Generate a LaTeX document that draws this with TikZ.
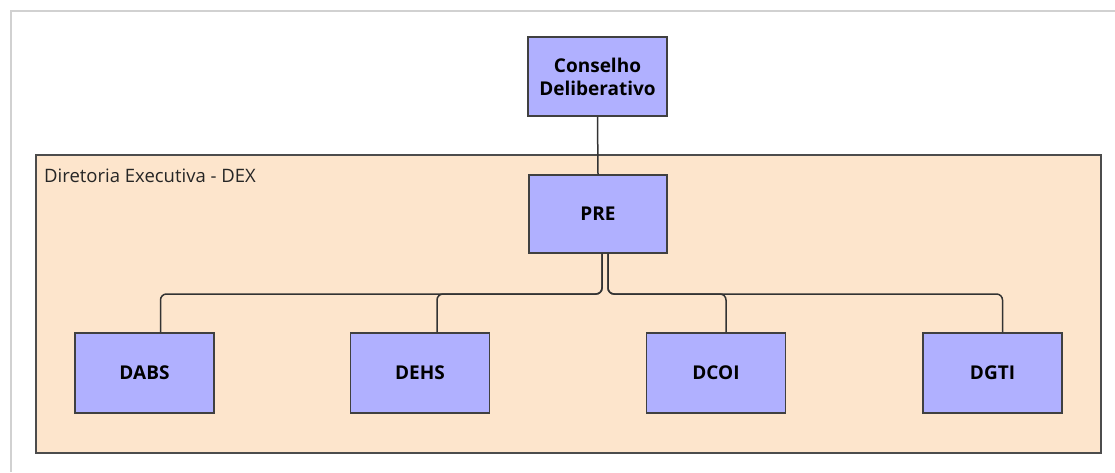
\documentclass[tikz,border=0pt]{standalone}
\usepackage{fontspec}
\setmainfont{Open Sans}
\begin{document}
\begin{tikzpicture}[x=1pt,y=-1pt,
  unit/.style={draw=black!75, line width=1.4pt, fill=boxfill, minimum width=139pt,
    minimum height=79pt, inner sep=2pt, align=center, font=\bfseries\fontsize{19}{23}\selectfont},
  link/.style={draw=black!80, line width=1.5pt, rounded corners=6pt}]
\definecolor{boxfill}{RGB}{176,176,255}
\definecolor{dexfill}{RGB}{253,229,204}
\useasboundingbox (0,0) rectangle (1115,472);
% page frame
\fill[white] (11,11) rectangle (1115,472);
\draw[black!18, line width=2pt] (11,472) -- (11,11) -- (1115,11);
% executive board container
\node[draw=black!70, line width=1.4pt, fill=dexfill, minimum width=1065pt, minimum height=298pt,
  inner sep=0pt] (dex) at (568.5,304) {};
\node[anchor=west, inner sep=0pt, font=\fontsize{18.5}{20}\selectfont, text=black!85] (dexlabel)
  at (44,176) {Diretoria Executiva - DEX};
% units
\node[unit] (cd) at (597.5,76.5) {Conselho\\Deliberativo};
\node[unit, minimum width=138pt, minimum height=78pt] (pre) at (598,214) {PRE};
\node[unit, minimum height=80pt] (dabs) at (144.5,373) {DABS};
\node[unit, minimum height=80pt] (dehs) at (420,373) {DEHS};
\node[unit, minimum height=80pt] (dcoi) at (716,373) {DCOI};
\node[unit, minimum height=80pt] (dgti) at (992.5,373) {DGTI};
% connectors
\draw[link] (cd.south) -- (pre.north);
\draw[link] ([xshift=4pt]pre.south) -- ([xshift=4pt]pre.south |- 0,294) -| ([xshift=16pt]dabs.north);
\draw[link] ([xshift=4pt]pre.south) -- ([xshift=4pt]pre.south |- 0,294) -| ([xshift=17pt]dehs.north);
\draw[link] ([xshift=10pt]pre.south) -- ([xshift=10pt]pre.south |- 0,294) -| ([xshift=10pt]dcoi.north);
\draw[link] ([xshift=10pt]pre.south) -- ([xshift=10pt]pre.south |- 0,294) -| ([xshift=10pt]dgti.north);
\end{tikzpicture}
\end{document}
